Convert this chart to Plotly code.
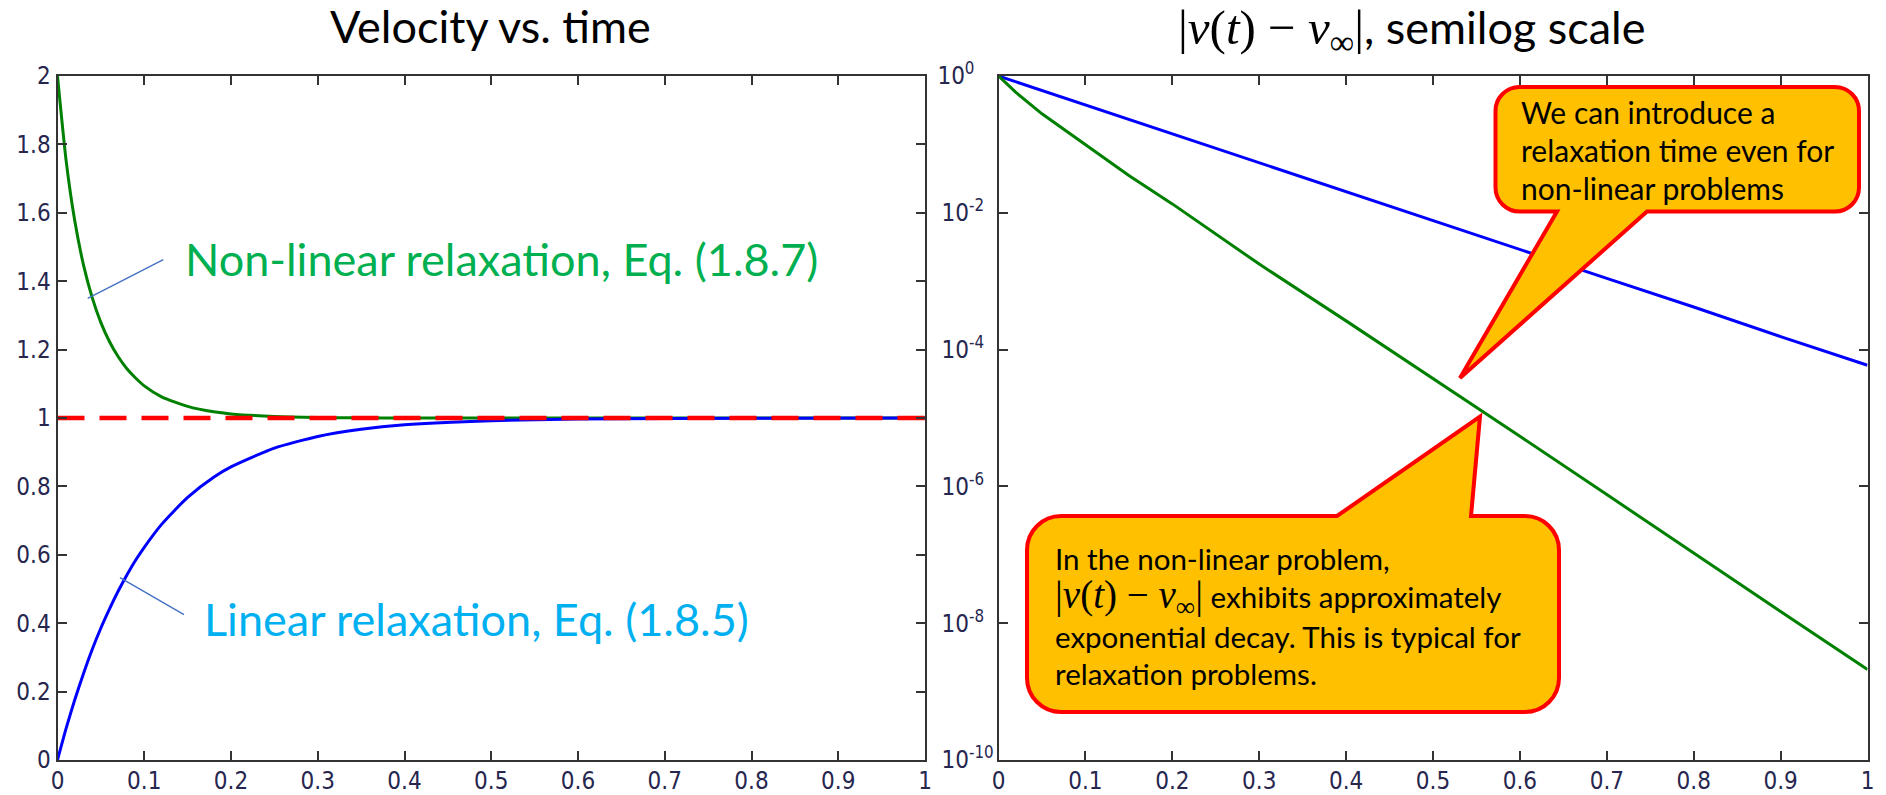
import plotly.graph_objects as go

W, H = 1886, 795

# ---------------- data ----------------
t_left = [0, 0.01, 0.02, 0.03, 0.04, 0.05, 0.06, 0.07, 0.08, 0.09, 0.10, 0.12, 0.15,
          0.18, 0.20, 0.25, 0.30, 0.35, 0.40, 0.50, 0.60, 0.80, 1.00]
v_linear = [0, 0.093, 0.177, 0.253, 0.323, 0.386, 0.442, 0.494, 0.541, 0.584, 0.622, 0.689,
            0.768, 0.827, 0.857, 0.912, 0.946, 0.967, 0.980, 0.992, 0.997, 0.9996, 1.0]
v_nonlinear = [2.0, 1.751, 1.575, 1.447, 1.352, 1.279, 1.223, 1.179, 1.144, 1.117, 1.094, 1.062,
               1.034, 1.018, 1.012, 1.0045, 1.0017, 1.0006, 1.0002, 1.00003, 1.0, 1.0, 1.0]
v_inf = [1.0, 1.0]
t_inf = [0.0, 1.0]

t_right = [0, 0.02, 0.05, 0.10, 0.15, 0.20, 0.30, 0.40, 0.50, 0.60, 0.70, 0.80, 0.90, 1.00]
dv_linear = [1.0, 0.823, 0.614, 0.378, 0.232, 0.141, 0.0537, 0.0204, 7.6e-3, 2.9e-3,
             1.1e-3, 4.2e-4, 1.55e-4, 5.9e-5]
dv_nonlinear = [1.0, 0.575, 0.28, 0.10, 0.035, 0.0135, 1.78e-3, 2.63e-4, 3.8e-5, 5.4e-6,
                7.6e-7, 1.05e-7, 1.48e-8, 2.1e-9]

x_ticks = [0, 0.1, 0.2, 0.3, 0.4, 0.5, 0.6, 0.7, 0.8, 0.9, 1]
x_ticktext = ["0", "0.1", "0.2", "0.3", "0.4", "0.5", "0.6", "0.7", "0.8", "0.9", "1"]
y1_ticks = [0, 0.2, 0.4, 0.6, 0.8, 1, 1.2, 1.4, 1.6, 1.8, 2]
y1_ticktext = ["0", "0.2", "0.4", "0.6", "0.8", "1", "1.2", "1.4", "1.6", "1.8", "2"]
y2_ticks = [1, 1e-2, 1e-4, 1e-6, 1e-8, 1e-10]
y2_exps = ["0", "-2", "-4", "-6", "-8", "-10"]

# ---------------- style ----------------
GREEN = "#008000"
BLUE = "#0000FF"
RED = "#FF0000"
AXC = "#333333"
TICKC = "#26264f"
TICKFONT = dict(family="Liberation Sans Narrow, DejaVu Sans Condensed, Arial Narrow, sans-serif",
                size=24, color=TICKC)
TXTFONT = "Lato, Carlito, Calibri, sans-serif"


def pxx(x):
    return x / W


def pxy(y):
    return 1 - y / H


fig = go.Figure()

fig.add_trace(go.Scatter(x=t_left, y=v_nonlinear, mode="lines",
                         line=dict(color=GREEN, width=3, shape="spline", smoothing=0.6),
                         xaxis="x", yaxis="y", showlegend=False))
fig.add_trace(go.Scatter(x=t_left, y=v_linear, mode="lines",
                         line=dict(color=BLUE, width=3, shape="spline", smoothing=0.6),
                         xaxis="x", yaxis="y", showlegend=False))
fig.add_trace(go.Scatter(x=t_inf, y=v_inf, mode="lines",
                         line=dict(color=RED, width=4.5, dash="27px,15px"),
                         xaxis="x", yaxis="y", showlegend=False))

fig.add_trace(go.Scatter(x=t_right, y=dv_linear, mode="lines",
                         line=dict(color=BLUE, width=3),
                         xaxis="x2", yaxis="y2", showlegend=False))
fig.add_trace(go.Scatter(x=t_right, y=dv_nonlinear, mode="lines",
                         line=dict(color=GREEN, width=3),
                         xaxis="x2", yaxis="y2", showlegend=False))

axis_common = dict(showline=True, linecolor=AXC, linewidth=2, mirror="ticks",
                   ticks="inside", ticklen=9, tickwidth=1.8, tickcolor=AXC,
                   showgrid=False, zeroline=False, tickfont=TICKFONT, automargin=False)

ydom = [pxy(760), pxy(76)]

# right-axis labels: pad short exponents with invisible characters so labels left-align
pad_ref = "-10"
y2_ticktext = []
for e in y2_exps:
    pad = "0" * (len(pad_ref) - len(e))
    if pad:
        y2_ticktext.append("10<sup>%s<span style='color:rgba(0,0,0,0)'>%s</span></sup>" % (e, pad))
    else:
        y2_ticktext.append("10<sup>%s</sup>" % e)

fig.update_layout(
    width=W, height=H,
    margin=dict(l=0, r=0, t=0, b=0, autoexpand=False),
    paper_bgcolor="white", plot_bgcolor="white",
    xaxis=dict(domain=[pxx(57.5), pxx(925)], range=[0, 1], tickvals=x_ticks,
               ticktext=x_ticktext, anchor="y", ticklabelstandoff=-2, **axis_common),
    yaxis=dict(domain=ydom, range=[0, 2], tickvals=y1_ticks, ticktext=y1_ticktext,
               anchor="x", ticklabelstandoff=0, **axis_common),
    xaxis2=dict(domain=[pxx(998.5), pxx(1867.5)], range=[0, 1], tickvals=x_ticks,
                ticktext=x_ticktext, anchor="y2", ticklabelstandoff=-2, **axis_common),
    yaxis2=dict(domain=ydom, type="log", range=[-10, 0], tickvals=y2_ticks,
                ticktext=y2_ticktext, anchor="x2", ticklabelstandoff=-2, **axis_common),
)

# ---------------- titles ----------------
fig.add_annotation(x=pxx(490), y=pxy(26), xref="paper", yref="paper",
                   text="Velocity vs. time", showarrow=False,
                   font=dict(family=TXTFONT, size=45, color="black"),
                   xanchor="center", yanchor="middle")
title_math = ("<span style='font-family:Liberation Serif;font-size:49px'>|<i>v</i>(<i>t</i>)"
              " − <i>v</i><sub>∞</sub>|</span>")
fig.add_annotation(x=pxx(1411), y=pxy(31), xref="paper", yref="paper",
                   text=title_math + ", semilog scale", showarrow=False,
                   font=dict(family=TXTFONT, size=45, color="black"),
                   xanchor="center", yanchor="middle")

# ---------------- left-plot labels with pointer lines ----------------
fig.add_shape(type="line", xref="x", yref="y", x0=0.0348, y0=1.350, x1=0.1220, y1=1.463,
              line=dict(color="#4472C4", width=1.4))
fig.add_shape(type="line", xref="x", yref="y", x0=0.0720, y0=0.533, x1=0.1458, y1=0.425,
              line=dict(color="#4472C4", width=1.4))
fig.add_annotation(x=0.145, y=1.465, xref="x", yref="y",
                   text="Non-linear relaxation, Eq. (1.8.7)", showarrow=False,
                   font=dict(family=TXTFONT, size=45, color="#00B050"),
                   xanchor="left", yanchor="middle")
fig.add_annotation(x=0.167, y=0.413, xref="x", yref="y",
                   text="Linear relaxation, Eq. (1.8.5)", showarrow=False,
                   font=dict(family=TXTFONT, size=45, color="#00B0F0"),
                   xanchor="left", yanchor="middle")


# ---------------- callouts ----------------
def pt(x, y):
    return "%.6f,%.6f" % (pxx(x), pxy(y))


def callout_path(L, T, R, B, r, pointer_edge, a, b, tip):
    k = 0.552 * r
    d = "M " + pt(L + r, T)
    if pointer_edge == "top":
        d += " L " + pt(a, T) + " L " + pt(*tip) + " L " + pt(b, T)
    d += " L " + pt(R - r, T)
    d += " C " + pt(R - r + k, T) + " " + pt(R, T + r - k) + " " + pt(R, T + r)
    d += " L " + pt(R, B - r)
    d += " C " + pt(R, B - r + k) + " " + pt(R - r + k, B) + " " + pt(R - r, B)
    if pointer_edge == "bottom":
        d += " L " + pt(b, B) + " L " + pt(*tip) + " L " + pt(a, B)
    d += " L " + pt(L + r, B)
    d += " C " + pt(L + r - k, B) + " " + pt(L, B - r + k) + " " + pt(L, B - r)
    d += " L " + pt(L, T + r)
    d += " C " + pt(L, T + r - k) + " " + pt(L + r - k, T) + " " + pt(L + r, T)
    d += " Z"
    return d


fig.add_shape(type="path", xref="paper", yref="paper",
              path=callout_path(1495.5, 87, 1859, 211.5, 24, "bottom", 1557, 1647, (1460, 378)),
              fillcolor="#FFC000", line=dict(color=RED, width=4))
fig.add_shape(type="path", xref="paper", yref="paper",
              path=callout_path(1027, 516, 1559, 712, 34, "top", 1337, 1471, (1480, 416.5)),
              fillcolor="#FFC000", line=dict(color=RED, width=4))

c1_lines = ["We can introduce a", "relaxation time even for", "non-linear problems"]
c1_y = [112, 150, 188]
for s, yy in zip(c1_lines, c1_y):
    fig.add_annotation(x=pxx(1519), y=pxy(yy), xref="paper", yref="paper", text=s,
                       showarrow=False, xanchor="left", yanchor="middle",
                       font=dict(family=TXTFONT, size=30, color="black"))

box_math = ("<span style='font-family:Liberation Serif;font-size:39px'>|<i>v</i>(<i>t</i>)"
            " − <i>v</i><sub>∞</sub>|</span>")
c2_lines = ["In the non-linear problem,",
            box_math + " exhibits approximately",
            "exponential decay. This is typical for",
            "relaxation problems."]
c2_y = [558, 597, 636, 673]
for s, yy in zip(c2_lines, c2_y):
    fig.add_annotation(x=pxx(1053), y=pxy(yy), xref="paper", yref="paper", text=s,
                       showarrow=False, xanchor="left", yanchor="middle",
                       font=dict(family=TXTFONT, size=29.5, color="black"))

fig.write_html("out.html", config={"displayModeBar": False},
               post_script="document.body.style.margin='0px';"
                           "document.body.style.overflow='hidden';")
